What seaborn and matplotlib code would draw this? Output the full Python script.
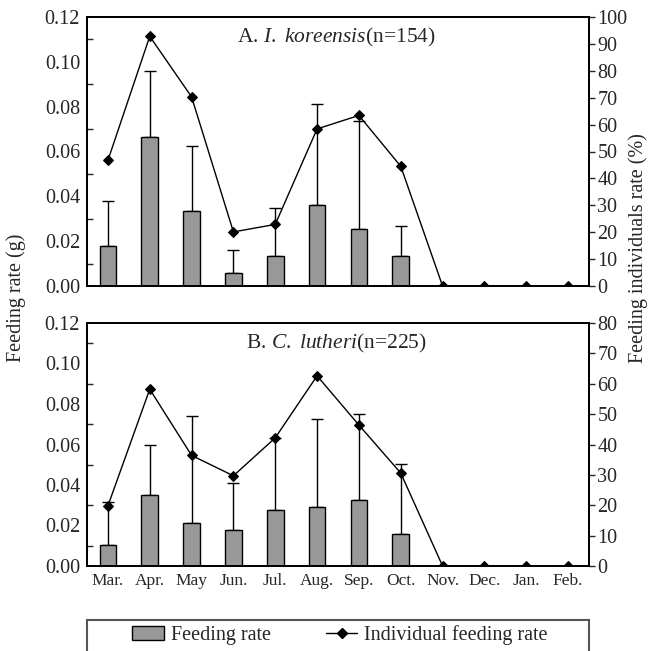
import numpy as np
import pandas as pd
import matplotlib
matplotlib.use("Agg")
import matplotlib.pyplot as plt
from matplotlib.patches import Patch, Rectangle
from matplotlib.lines import Line2D
from matplotlib.ticker import MultipleLocator, FixedLocator
import seaborn as sns

months = ["Mar.", "Apr.", "May", "Jun.", "Jul.", "Aug.", "Sep.", "Oct.", "Nov.", "Dec.", "Jan.", "Feb."]

# Panel A: I. koreensis
a_rate = [0.0178, 0.0666, 0.0335, 0.0058, 0.0134, 0.0363, 0.0253, 0.0132, 0, 0, 0, 0]
a_err_top = [0.0379, 0.0958, 0.0625, 0.0162, 0.0349, 0.0813, 0.0738, 0.0269, np.nan, np.nan, np.nan, np.nan]
a_pct = [46.7, 92.8, 70.3, 20.1, 22.9, 58.4, 63.4, 44.5, 0, 0, 0, 0]

# Panel B: C. lutheri
b_rate = [0.0102, 0.0350, 0.0213, 0.0177, 0.0279, 0.0292, 0.0328, 0.0160, 0, 0, 0, 0]
b_err_top = [0.0314, 0.0598, 0.0743, 0.0409, 0.0630, 0.0725, 0.0751, 0.0503, np.nan, np.nan, np.nan, np.nan]
b_pct = [19.8, 58.2, 36.4, 29.7, 42.2, 62.6, 46.4, 30.6, 0, 0, 0, 0]

titles = ["A. $\\mathit{I.\\ koreensis}$(n=154)", "B. $\\mathit{C.\\ lutheri}$(n=225)"]
right_max = [100, 80]

sns.set_style("white")
plt.rcParams["font.family"] = ["Liberation Serif", "DejaVu Serif"]
plt.rcParams["mathtext.fontset"] = "custom"
plt.rcParams["mathtext.rm"] = "Liberation Serif"
plt.rcParams["mathtext.it"] = "Liberation Serif:italic"
plt.rcParams["font.size"] = 13

W, H = 649, 651
fig = plt.figure(figsize=(W / 100, H / 100), dpi=100)

def fx(p):
    return p / W

def fy(p):
    return 1 - p / H

ax_specs = [(17, 286), (323, 566)]
L, R = 87, 589
bar_color = "#989898"
fs_ytick = 14.5
fs_month = 12.5
fs_title = 15.5
fs_label = 14.5
fs_leg = 14.5

datasets = [(a_rate, a_err_top, a_pct), (b_rate, b_err_top, b_pct)]
title_y = [37, 343]

for i, ((top, bot), (rate, errtop, pct)) in enumerate(zip(ax_specs, datasets)):
    ax = fig.add_axes([fx(L), fy(bot), fx(R - L), (bot - top) / H])
    df = pd.DataFrame({"month": months, "rate": rate, "err": errtop, "pct": pct})
    sns.barplot(data=df, x="month", y="rate", ax=ax, color=bar_color,
                width=0.4, edgecolor="black", linewidth=1, saturation=1, errorbar=None, zorder=2)
    pos = np.arange(len(months))
    up = np.array(errtop) - np.array(rate)
    ax.errorbar(pos, rate, yerr=[np.zeros(len(pos)), up], fmt="none",
                ecolor="black", elinewidth=1, capsize=4, capthick=1, zorder=1)
    ax.set_ylim(0, 0.12)
    ax.set_xlim(-0.5, len(months) - 0.5)
    ax.yaxis.set_major_locator(MultipleLocator(0.02))
    ax.yaxis.set_minor_locator(MultipleLocator(0.01))
    ax.yaxis.set_major_formatter(matplotlib.ticker.FormatStrFormatter("%.2f"))
    ax.tick_params(axis="y", which="major", length=0, pad=5, labelsize=fs_ytick)
    ax.tick_params(axis="y", which="minor", direction="in", length=4, width=1)
    ax.xaxis.set_minor_locator(FixedLocator(np.arange(0.5, len(months) - 0.5, 1)))
    ax.tick_params(axis="x", which="minor", direction="in", length=5, width=1)
    ax.tick_params(axis="x", which="major", length=0, pad=5, labelsize=fs_month)
    ax.set_xlabel("")
    ax.set_ylabel("")
    if i == 0:
        ax.set_xticklabels([])
    for s in ax.spines.values():
        s.set_linewidth(1.3)
        s.set_color("black")

    ax2 = ax.twinx()
    sns.pointplot(data=df, x="month", y="pct", ax=ax2, color="black", markers="D",
                  markersize=5.5, linewidth=1, errorbar=None)
    ax2.set_ylim(0, right_max[i])
    ax2.set_xlim(-0.5, len(months) - 0.5)
    ax2.yaxis.set_major_locator(MultipleLocator(10))
    ax2.tick_params(axis="y", which="major", direction="out", length=4, width=1, pad=2, labelsize=fs_ytick)
    ax2.tick_params(axis="x", which="both", length=0)
    ax2.set_ylabel("")
    ax2.set_xlabel("")
    for s in ax2.spines.values():
        s.set_linewidth(1.3)
        s.set_color("black")
    fig.text(fx(336), fy(title_y[i]), titles[i], ha="center", va="center", fontsize=fs_title)

fig.text(fx(16), fy(298), "Feeding rate (g)", rotation=90, ha="center", va="center", fontsize=fs_label)
fig.text(fx(638), fy(248), "Feeding individuals rate (%)", rotation=90, ha="center", va="center", fontsize=fs_label)

handles = [Patch(facecolor=bar_color, edgecolor="black", linewidth=1),
           Line2D([], [], color="black", marker="D", markersize=5.5, linewidth=1)]
fig.legend(handles, ["Feeding rate", "Individual feeding rate"], loc="center",
           bbox_to_anchor=(fx(340), fy(635)), ncol=2, frameon=False,
           handlelength=1.55, handleheight=0.75, handletextpad=0.35, columnspacing=2.75,
           fontsize=fs_leg)
fig.patches.append(Rectangle((fx(L), -0.02), fx(R - L), 0.02 + (H - 620) / H,
                             transform=fig.transFigure, fill=False, edgecolor="#555555",
                             linewidth=1.5, clip_on=False))

fig.savefig("out.png", dpi=100)
